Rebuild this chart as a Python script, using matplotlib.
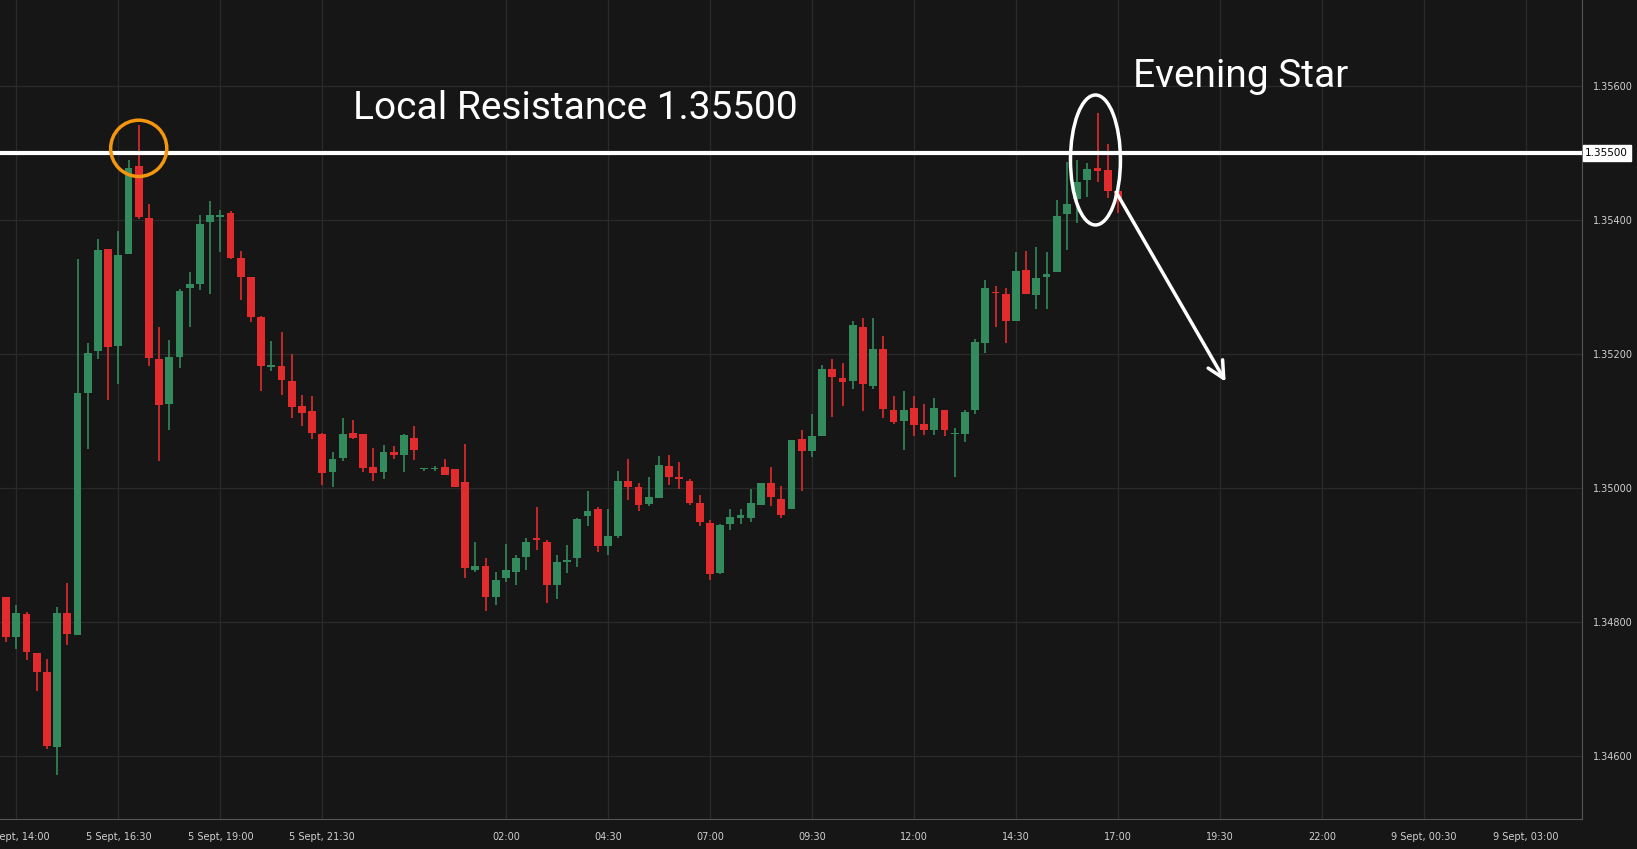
import numpy as np
import matplotlib
matplotlib.use("Agg")
import matplotlib.pyplot as plt
from matplotlib.patches import Ellipse

# 15-minute candles, index 0 = 5 Sept 14:00 (prices in 1e-5 units)
start_idx = -1
opens = [134838, 134777, 134812, 134754, 134725, 134614, 134813, 134780, 135142, 135204,
         135357, 135212, 135350, 135481, 135403, 135192, 135125, 135195, 135299, 135305,
         135397, 135405, 135410, 135343, 135315, 135255, 135181, 135182, 135160, 135122,
         135115, 135081, 135024, 135045, 135082, 135080, 135032, 135024, 135054, 135049,
         135075, 135028, 135029, 135031, 135029, 135009, 134877, 134884, 134837, 134865,
         134875, 134897, 134926, 134920, 134855, 134889, 134895, 134958, 134968, 134913,
         134928, 135011, 135002, 134976, 134985, 135033, 135017, 135011, 134978, 134948,
         134873, 134947, 134956, 134956, 134975, 135008, 134984, 134968, 135073, 135055,
         135078, 135178, 135164, 135159, 135241, 135153, 135207, 135117, 135100, 135119,
         135096, 135087, 135117, 135081, 135081, 135116, 135217, 135292, 135290, 135249,
         135326, 135288, 135315, 135322, 135409, 135431, 135459, 135477, 135474, 135443]
closes = [134778, 134813, 134755, 134726, 134615, 134813, 134782, 135142, 135202, 135355,
          135211, 135348, 135477, 135404, 135194, 135124, 135195, 135294, 135304, 135394,
          135407, 135408, 135343, 135315, 135255, 135182, 135184, 135161, 135121, 135112,
          135082, 135022, 135044, 135081, 135075, 135030, 135022, 135054, 135049, 135079,
          135057, 135029, 135030, 135020, 135002, 134880, 134883, 134838, 134862, 134877,
          134895, 134920, 134922, 134856, 134889, 134893, 134954, 134965, 134914, 134929,
          135011, 135002, 134974, 134986, 135035, 135017, 135013, 134977, 134950, 134871,
          134945, 134957, 134959, 134977, 135008, 134986, 134960, 135071, 135055, 135077,
          135178, 135165, 135158, 135243, 135155, 135207, 135118, 135098, 135117, 135094,
          135086, 135119, 135086, 135082, 135114, 135218, 135298, 135291, 135249, 135324,
          135289, 135313, 135319, 135406, 135424, 135457, 135476, 135473, 135443, 135431]
highs = [134838, 134826, 134815, 134754, 134745, 134823, 134858, 135342, 135217, 135371,
         135357, 135383, 135490, 135542, 135424, 135241, 135221, 135297, 135322, 135407,
         135429, 135415, 135413, 135354, 135315, 135257, 135219, 135233, 135200, 135139,
         135137, 135082, 135054, 135105, 135102, 135080, 135060, 135064, 135063, 135080,
         135092, 135030, 135033, 135044, 135029, 135066, 134919, 134896, 134875, 134917,
         134900, 134925, 134971, 134923, 134900, 134915, 134956, 134995, 134972, 134968,
         135026, 135044, 135008, 135017, 135048, 135050, 135039, 135014, 134989, 134953,
         134947, 134968, 134968, 134999, 135008, 135032, 135003, 135071, 135087, 135111,
         135184, 135192, 135186, 135249, 135254, 135254, 135227, 135138, 135145, 135137,
         135126, 135135, 135117, 135090, 135117, 135222, 135311, 135301, 135298, 135353,
         135354, 135359, 135353, 135430, 135487, 135489, 135485, 135559, 135513, 135458]
lows = [134770, 134760, 134744, 134697, 134610, 134572, 134765, 134780, 135058, 135193,
        135132, 135155, 135349, 135402, 135182, 135040, 135087, 135179, 135241, 135295,
        135289, 135352, 135342, 135281, 135248, 135145, 135175, 135139, 135104, 135092,
        135073, 135005, 135002, 135040, 135073, 135024, 135010, 135014, 135043, 135024,
        135042, 135026, 135026, 135020, 135002, 134865, 134874, 134816, 134826, 134859,
        134856, 134877, 134907, 134829, 134835, 134873, 134882, 134944, 134904, 134900,
        134926, 134982, 134965, 134973, 134985, 135005, 134998, 134974, 134943, 134862,
        134871, 134937, 134947, 134950, 134974, 134973, 134956, 134968, 134995, 135046,
        135078, 135106, 135123, 135148, 135115, 135148, 135105, 135095, 135057, 135078,
        135079, 135079, 135078, 135017, 135069, 135111, 135201, 135240, 135217, 135249,
        135289, 135267, 135267, 135322, 135356, 135395, 135435, 135457, 135433, 135411]

tick_idx = [0, 10, 20, 30, 48, 58, 68, 78, 88, 98, 108, 118, 128, 138, 148]
tick_labels = ["5 Sept, 14:00", "5 Sept, 16:30", "5 Sept, 19:00", "5 Sept, 21:30", "02:00",
               "04:30", "07:00", "09:30", "12:00", "14:30", "17:00", "19:30", "22:00",
               "9 Sept, 00:30", "9 Sept, 03:00"]
price_ticks = [1.346, 1.348, 1.350, 1.352, 1.354, 1.356]
resistance = 1.355

o = np.array(opens) / 1e5
c = np.array(closes) / 1e5
h = np.array(highs) / 1e5
l = np.array(lows) / 1e5
x = np.arange(start_idx, start_idx + len(o))

bg = "#161616"
up, down = "#338a5c", "#e12b2d"
colors = np.where(c >= o, up, down)

W, H = 1637, 849
fig = plt.figure(figsize=(W / 100, H / 100), dpi=100, facecolor=bg)
ax = fig.add_axes([0, 1 - 819 / H, 1582 / W, 819 / H], facecolor=bg)

ax.vlines(x, l, h, colors=colors, lw=1.2, zorder=2)
body = np.maximum(np.abs(c - o), 0.000012)
ax.bar(x, body, bottom=np.minimum(o, c), width=0.78, color=colors, zorder=3)

ax.set_xlim(-1.6, 153.5)
ax.set_ylim(1.34506, 1.357284)

ax.set_xticks(tick_idx)
ax.set_xticklabels(tick_labels)
ax.yaxis.tick_right()
ax.set_yticks(price_ticks)
ax.set_yticklabels([f"{p:.5f}" for p in price_ticks])
ax.tick_params(colors="#d0d0d0", labelsize=7, length=0, pad=9)
ax.tick_params(axis="y", pad=8)
ax.grid(True, color="#2a2a2a", lw=0.9)
for s in ["top", "left"]:
    ax.spines[s].set_visible(False)
for s in ["right", "bottom"]:
    ax.spines[s].set_color("#555555")

# resistance line and label
ax.axhline(resistance, color="white", lw=3, zorder=4)
ax.text(1.002, resistance, f"{resistance:.5f}", transform=ax.get_yaxis_transform(),
        va="center", ha="left", fontsize=7.5, color="black",
        bbox=dict(boxstyle="square,pad=0.25", fc="white", ec="white"), clip_on=False)

ax.add_patch(Ellipse((12, 1.35507), 5.5, 0.00084, fill=False, ec="#f5960f", lw=2.5, zorder=5))
ax.add_patch(Ellipse((105.8, 1.354896), 4.9, 0.00194, fill=False, ec="white", lw=2.5, zorder=5))
ax.annotate("", xy=(118.7, 1.35155), xytext=(107.7, 1.35445),
            arrowprops=dict(arrowstyle="->,head_length=1.2,head_width=0.6", color="white", lw=2.5),
            zorder=6)

ax.text(33.0, 1.35566, "Local Resistance 1.35500", color="white", fontsize=28,
        family="Roboto", ha="left", va="center")
ax.text(109.5, 1.35614, "Evening Star", color="white", fontsize=28,
        family="Roboto", ha="left", va="center")

fig.savefig("out.png", dpi=100, facecolor=bg)
